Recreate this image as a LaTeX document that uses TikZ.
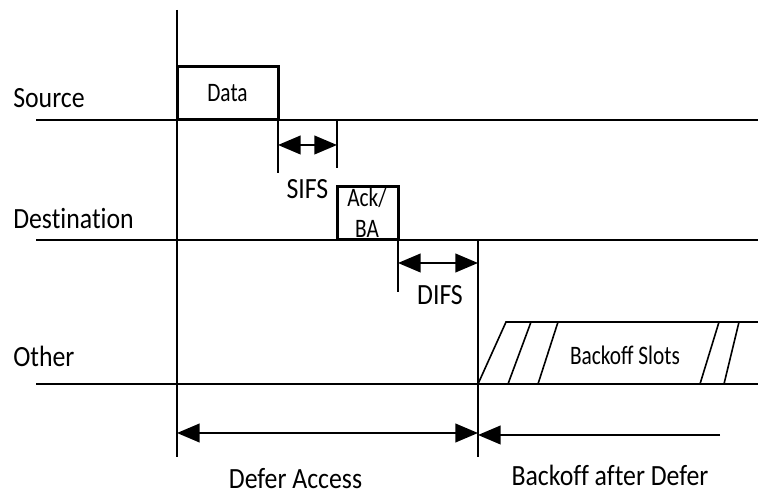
\documentclass[tikz,border=0pt]{standalone}
\usepackage{fontspec}
\setmainfont{Carlito}[FakeStretch=0.88,Ligatures=NoCommon]
\newfontfamily\boxfont{Carlito}[FakeStretch=0.8]
\usetikzlibrary{arrows.meta}

\begin{document}
\begin{tikzpicture}[x=0.75pt,y=-0.75pt,
  line/.style={black,line width=1.5pt},
  slash/.style={black,line width=1.2pt},
  frame/.style={draw,black,line width=2.25pt,inner sep=0pt,outer sep=0pt},
  lbl/.style={font=\fontsize{22}{26}\selectfont,inner sep=0pt},
  boxtxt/.style={font=\boxfont\fontsize{20}{23.25}\selectfont,inner sep=0pt},
  interval/.style={black,line width=1.5pt,
    {Triangle[length=17pt,width=14pt]}-{Triangle[length=17pt,width=14pt]}}]
  \useasboundingbox (0,0) rectangle (758,495);

  % time lines
  \coordinate (top) at (177,10);
  \coordinate (bottom) at (177,457);
  \coordinate (srcL) at (36,120);
  \coordinate (srcR) at (758,120);
  \coordinate (dstL) at (36,240);
  \coordinate (dstR) at (758,240);
  \coordinate (othL) at (36,384);
  \coordinate (othR) at (758,384);
  \coordinate (idle) at (478,240);
  \coordinate (idleB) at (478,457);

  \draw[line] (top) -- (bottom);
  \draw[line] (srcL) -- (srcR);
  \draw[line] (dstL) -- (dstR);
  \draw[line] (othL) -- (othR);
  \draw[line] (idle) -- (idleB);

  \node[lbl,anchor=base west] (source) at (13,108) {Source};
  \node[lbl,anchor=base west] (dest) at (13,229) {Destination};
  \node[lbl,anchor=base west] (other) at (13,367) {Other};

  % frames
  \node[frame,boxtxt,minimum width=75.75pt,minimum height=39.75pt,
    anchor=south west] (data) at (177,120) {Data};
  \node[frame,minimum width=45.75pt,minimum height=39.75pt,
    anchor=south west] (ack) at (337,240) {};
  \node[boxtxt,align=center,font=\boxfont\fontsize{20}{23.5}\selectfont]
    (acktxt) at (367,213) {Ack/\\BA};

  % SIFS
  \coordinate (sifsL) at (278,173);
  \coordinate (sifsR) at (337,168);
  \coordinate (sifsA) at (278,145);
  \coordinate (sifsB) at (337,145);
  \draw[line] (sifsL |- srcR) -- (sifsL);
  \draw[line] (sifsR |- srcR) -- (sifsR);
  \draw[interval] (sifsA) -- (sifsB);
  \node[lbl,anchor=base] (sifs) at (307.5,199) {SIFS};

  % DIFS
  \coordinate (difsL) at (398,292);
  \coordinate (difsA) at (398,263);
  \coordinate (difsB) at (478,263);
  \draw[line] (difsL |- dstR) -- (difsL);
  \draw[interval] (difsA) -- (difsB);
  \node[lbl,anchor=base] (difs) at (440,305) {DIFS};

  % backoff slots
  \coordinate (slotA) at (478,384);
  \coordinate (slotB) at (506,322);
  \coordinate (slotC) at (758,322);
  \draw[slash] (slotA) -- (slotB) -- (slotC);
  \foreach \a/\b in {508/531,538/558,700/719,724/739}
    \draw[slash] (\a,384) -- (\b,322);
  \node[boxtxt,anchor=base] (slots) at (625,365) {Backoff Slots};

  % defer and backoff
  \coordinate (deferA) at (177,433);
  \coordinate (deferB) at (478,433);
  \coordinate (boA) at (720,435);
  \coordinate (boB) at (478,435);
  \draw[interval] (deferA) -- (deferB);
  \draw[line,-{Triangle[length=17pt,width=14pt]}] (boA) -- (boB);
  \node[lbl,anchor=base] (defer) at (295.5,489) {Defer Access};
  \node[lbl,anchor=base] (after) at (610,486) {Backoff after Defer};
\end{tikzpicture}
\end{document}
